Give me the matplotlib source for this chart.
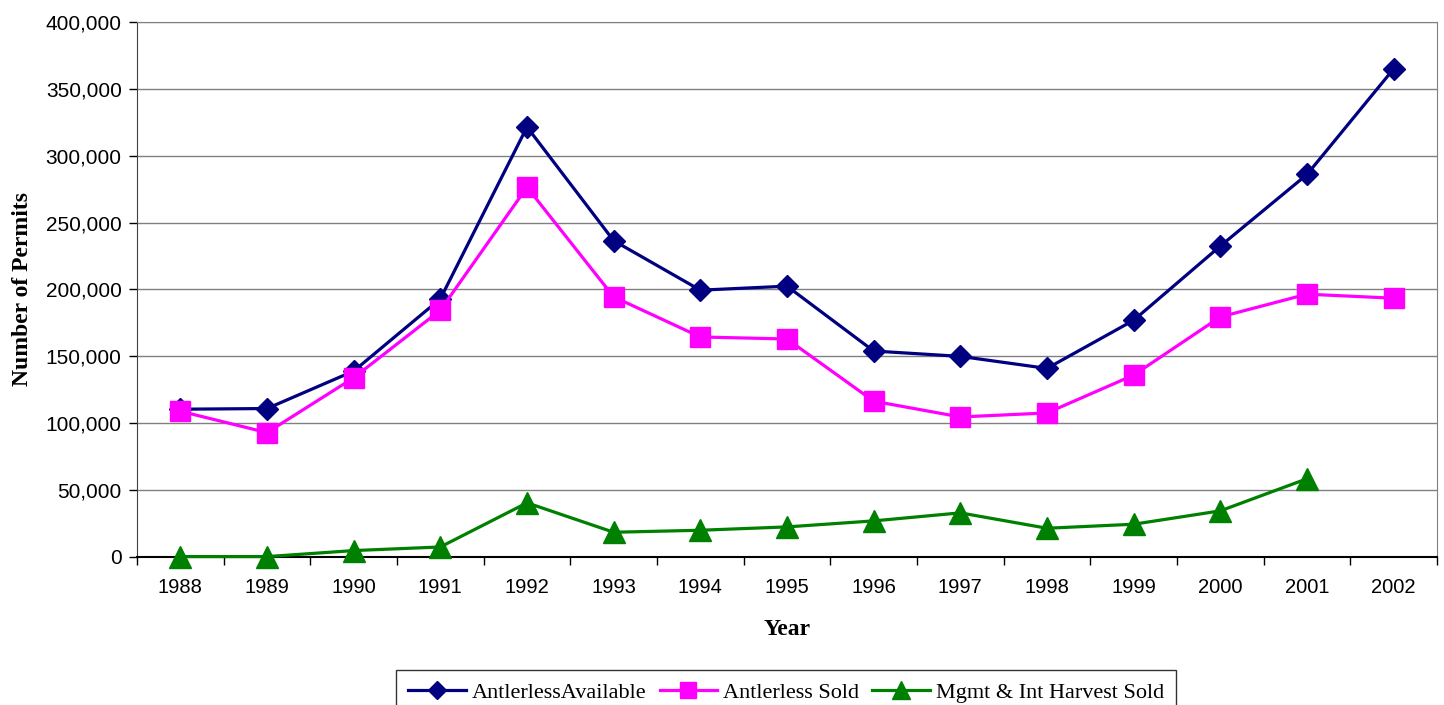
import matplotlib
matplotlib.use("Agg")
import matplotlib.pyplot as plt
from matplotlib.ticker import FuncFormatter, FixedLocator
import numpy as np

years = ["1988", "1989", "1990", "1991", "1992", "1993", "1994", "1995",
         "1996", "1997", "1998", "1999", "2000", "2001", "2002"]
available = [110500, 111000, 139000, 193000, 321500, 236500, 199500, 202500,
             154000, 150000, 141000, 177000, 232500, 286000, 365000]
sold = [109000, 93000, 134000, 184500, 276500, 194500, 164500, 163000,
        116500, 104700, 107700, 136000, 179500, 196500, 193500]
mgmt = [300, 300, 4800, 7500, 40500, 18500, 20000, 22500,
        27000, 33000, 21500, 24500, 34500, 58500]

fig = plt.figure(figsize=(14.44, 7.05), dpi=100)
ax = fig.add_axes([137 / 1444, 148 / 705, 1300 / 1444, 535 / 705])

x = np.arange(len(years))
l1, = ax.plot(x, available, color="#000080", lw=2.3, marker="D", ms=11,
              label="AntlerlessAvailable", zorder=3, clip_on=False)
l2, = ax.plot(x, sold, color="#FF00FF", lw=2.3, marker="s", ms=14,
              label="Antlerless Sold", zorder=3, clip_on=False)
l3, = ax.plot(x[:len(mgmt)], mgmt, color="#008000", lw=2.3, marker="^", ms=16,
              label="Mgmt & Int Harvest Sold", zorder=4, clip_on=False)

ax.set_xlim(-0.5, len(years) - 0.5)
ax.set_ylim(0, 400000)
ax.set_yticks(np.arange(0, 400001, 50000))
ax.yaxis.set_major_formatter(FuncFormatter(lambda v, p: f"{int(v):,}"))
ax.yaxis.grid(True, color="#808080", lw=1)
ax.set_axisbelow(True)

ax.set_xticks(x)
ax.set_xticklabels(years)
ax.xaxis.set_minor_locator(FixedLocator(np.arange(-0.5, len(years), 1.0)))
ax.tick_params(axis="x", which="major", length=0, pad=15, labelsize=14.5)
ax.tick_params(axis="x", which="minor", length=6, width=1, direction="out")
ax.tick_params(axis="y", length=6, width=1, direction="out", pad=5,
               labelsize=15)
for lab in ax.get_xticklabels() + ax.get_yticklabels():
    lab.set_family("Liberation Sans")

for s in ("top", "right"):
    ax.spines[s].set_color("#808080")
ax.spines["left"].set_color("#404040")
ax.spines["bottom"].set_color("black")
ax.spines["bottom"].set_linewidth(1.5)

ax.set_ylabel("Number of Permits", family="Liberation Serif", fontweight="bold",
              fontsize=17, labelpad=9)
ax.set_xlabel("Year", family="Liberation Serif", fontweight="bold",
              fontsize=17, labelpad=16)

leg = fig.legend(handles=[l1, l2, l3], loc="upper center",
                 bbox_to_anchor=(786 / 1444, 1 - 670 / 705), ncol=3,
                 frameon=True, fancybox=False, edgecolor="black",
                 prop={"family": "Liberation Serif", "size": 16},
                 handlelength=2.6, columnspacing=0.6, handletextpad=0.25,
                 borderpad=0.55, borderaxespad=0, markerscale=0.85)
leg.get_frame().set_linewidth(1)

fig.savefig("out.png", dpi=100)
